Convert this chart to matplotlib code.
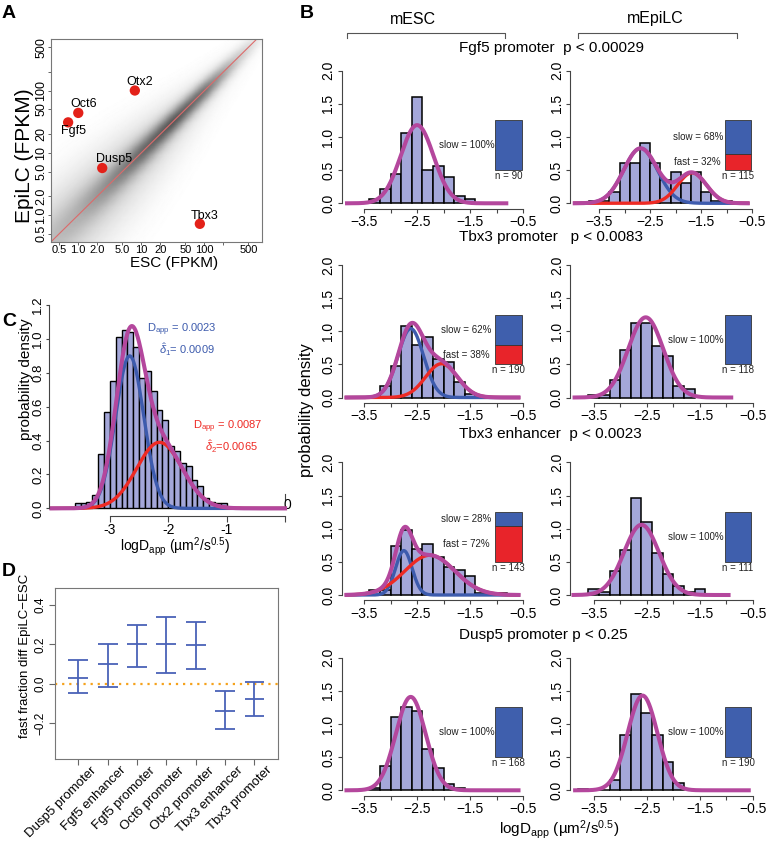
import numpy as np
import matplotlib.pyplot as plt
from matplotlib import ticker
from matplotlib.colors import LinearSegmentedColormap
from matplotlib.transforms import blended_transform_factory

plt.rcParams['font.family'] = ['Liberation Sans', 'DejaVu Sans']
plt.rcParams['mathtext.fontset'] = 'custom'
plt.rcParams['mathtext.rm'] = 'Liberation Sans'
plt.rcParams['mathtext.it'] = 'Liberation Sans:italic'
plt.rcParams['mathtext.bf'] = 'Liberation Sans:bold'

W, H = 768, 844

# ---------------- A: expression, ESC vs EpiLC (FPKM)
a_genes = ['Otx2', 'Oct6', 'Fgf5', 'Dusp5', 'Tbx3']
a_esc = [7.9, 1.0, 0.69, 2.4, 85]
a_epilc = [101, 44, 31, 5.7, 0.72]
a_ticks = [0.5, 1, 2, 5, 10, 20, 50, 100, 200, 500]
a_ticklabels = ['0.5', '1.0', '2.0', '5.0', '10', '20', '50', '100', '', '500']
# grey cloud of all genes, read along the diagonal (log10 FPKM):
# darkness of the dense core and of the sparse halo, and their spread in decades
cloud_pos = [-0.5, 0.0, 0.5, 1.0, 1.5, 2.0, 2.5, 3.0]
cloud_core = [0.08, 0.15, 0.30, 0.48, 0.60, 0.52, 0.20, 0.02]
cloud_halo = [0.20, 0.21, 0.21, 0.19, 0.15, 0.10, 0.05, 0.0]
core_spread = [0.20, 0.17, 0.14, 0.12, 0.10, 0.09, 0.08, 0.07]
halo_spread = [0.45, 0.42, 0.38, 0.33, 0.27, 0.20, 0.15, 0.10]

# ---------------- B: logDapp histograms (bin width 0.2)
b_loci = ['Fgf5 promoter  p < 0.00029', 'Tbx3 promoter   p < 0.0083',
          'Tbx3 enhancer  p < 0.0023', 'Dusp5 promoter p < 0.25']
esc_first_edge = [-3.4, -3.2, -3.4, -3.4]
esc_density = [
    [0.06, 0.22, 0.44, 1.06, 1.61, 0.50, 0.56, 0.39, 0.11, 0.06],
    [0.18, 0.47, 1.08, 0.79, 0.92, 0.58, 0.53, 0.24, 0.05],
    [0.07, 0.07, 0.74, 0.98, 0.70, 0.77, 0.57, 0.42, 0.38, 0.28, 0.035, 0.035, 0.035],
    [0.03, 0.36, 1.10, 1.25, 1.19, 0.63, 0.33, 0.09, 0.03],
]
epi_first_edge = [-3.7, -3.6, -3.6, -3.8]
epi_density = [
    [0.04, 0.04, 0.17, 0.61, 0.61, 0.91, 0.61, 0.35, 0.48, 0.30, 0.48, 0.17, 0.04, 0.04],
    [0.045, 0.045, 0.27, 0.72, 1.12, 1.12, 0.77, 0.63, 0.17, 0.13],
    [0.09, 0.045, 0.36, 0.68, 1.46, 1.10, 0.63, 0.31, 0.14, 0.045, 0.09],
    [0.026, 0.0, 0.0, 0.16, 0.84, 1.45, 1.16, 0.84, 0.42, 0.105],
]
esc_n = [90, 190, 143, 168]
epi_n = [115, 118, 111, 190]
esc_slow = [100, 62, 28, 100]
epi_slow = [68, 100, 100, 100]
# fitted populations: (mean, peak height, sd)
esc_slow_fit = [(-2.50, 1.18, 0.31), (-2.62, 1.04, 0.24), (-2.75, 0.67, 0.155), (-2.62, 1.41, 0.28)]
esc_fast_fit = [None, (-2.04, 0.51, 0.30), (-2.26, 0.60, 0.47), None]
epi_slow_fit = [(-2.69, 0.83, 0.33), (-2.52, 1.21, 0.33), (-2.60, 1.06, 0.33), (-2.58, 1.43, 0.28)]
epi_fast_fit = [(-1.68, 0.46, 0.28), None, None, None]
esc_fit_range = [(-3.82, -0.82), (-3.83, -0.59), (-3.83, -0.59), (-3.83, -0.59)]
epi_fit_range = [(-3.98, -0.59), (-3.86, -0.91), (-3.88, -0.96), (-3.85, -0.58)]

# ---------------- C: pooled logDapp histogram (bin width 0.1)
c_first_edge = -3.6
c_density = [0.03, 0.03, 0.04, 0.08, 0.32, 0.57, 0.75, 1.01, 1.05, 1.04, 0.95, 0.77, 0.81,
             0.69, 0.58, 0.52, 0.37, 0.34, 0.27, 0.25, 0.17, 0.13, 0.06, 0.04, 0.03, 0.03]
c_slow_fit = (-2.66, 0.90, 0.24)
c_fast_fit = (-2.15, 0.39, 0.39)

# ---------------- D: fast fraction difference EpiLC - ESC
d_labels = ['Dusp5 promoter', 'Fgf5 enhancer', 'Fgf5 promoter', 'Oct6 promoter',
            'Otx2 promoter', 'Tbx3 enhancer', 'Tbx3 promoter']
d_mid = [0.031, 0.100, 0.200, 0.203, 0.197, -0.137, -0.080]
d_low = [-0.049, -0.015, 0.083, 0.053, 0.073, -0.231, -0.166]
d_high = [0.119, 0.203, 0.298, 0.337, 0.312, -0.039, 0.010]

HIST = '#a4a7d9'
MAG = '#b4479d'
BLUE = '#3d5bad'
RED = '#ee2a24'
SPINE = '#444444'

fig = plt.figure(figsize=(W / 100, H / 100), dpi=100)


def px_axes(x0, y0, x1, y1):
    return fig.add_axes([x0 / W, 1 - y1 / H, (x1 - x0) / W, (y1 - y0) / H])


def gauss(x, mu, h, sd):
    return h * np.exp(-0.5 * ((x - mu) / sd) ** 2)


ov = fig.add_axes([0, 0, 1, 1])
ov.set_xlim(0, W)
ov.set_ylim(H, 0)
ov.axis('off')

for letter, (lx, ly) in zip('ABCD', [(9, 13), (307, 13), (9, 322), (9, 571)]):
    ov.text(lx, ly, letter, fontsize=14, fontweight='bold', ha='center', va='center')

# ---------------- panel A
ax = px_axes(51, 39, 262, 242)
ax.set_xscale('log')
ax.set_yscale('log')
g = np.linspace(-0.7, 3.2, 220)
U, V = np.meshgrid(g, g)
along = (U + V) / 2
perp = (V - U) / np.sqrt(2)
core = np.interp(along, cloud_pos, cloud_core) * \
    np.exp(-0.5 * (perp / np.interp(along, cloud_pos, core_spread)) ** 2)
halo = np.interp(along, cloud_pos, cloud_halo) * \
    np.exp(-0.5 * (perp / np.interp(along, cloud_pos, halo_spread)) ** 2)
cloud_cmap = LinearSegmentedColormap.from_list('cloud', ['white', '#222222'])
ax.pcolormesh(10 ** U, 10 ** V, core + halo, cmap=cloud_cmap, vmin=0, vmax=1,
              shading='gouraud', rasterized=True)
ax.plot([0.1, 3000], [0.1, 3000], color='#dd6a6a', lw=0.8)
ax.scatter(a_esc, a_epilc, s=55, color='#e32119', edgecolors='none', zorder=3)
offsets = {'Otx2': (5, 9), 'Oct6': (5, 9), 'Fgf5': (5, -9), 'Dusp5': (12, 9), 'Tbx3': (5, 8)}
for gname, ex, ey in zip(a_genes, a_esc, a_epilc):
    ax.annotate(gname, (ex, ey), xytext=offsets[gname], textcoords='offset pixels',
                ha='center', va='center', fontsize=9)
ax.set_xlim(0.369, 824)
ax.set_ylim(0.367, 682)
ax.set_xticks(a_ticks)
ax.set_xticklabels(a_ticklabels, fontsize=8)
ax.set_yticks(a_ticks)
ax.set_yticklabels(a_ticklabels, fontsize=9, rotation=90, va='center')
ax.xaxis.set_minor_locator(ticker.NullLocator())
ax.yaxis.set_minor_locator(ticker.NullLocator())
ax.tick_params(length=2, width=0.7, color='#666', pad=0.8)
ax.tick_params(axis='x', pad=0.4)
for s in ax.spines.values():
    s.set_color('#777')
    s.set_linewidth(0.8)
ov.text(174, 263, 'ESC (FPKM)', fontsize=11, ha='center', va='center')
ov.text(24, 156, 'EpiLC (FPKM)', fontsize=15, rotation=90, ha='center', va='center')


# ---------------- panel B
def hist_panel(ax, first_edge, dens, slow_fit, fast_fit, fit_range, slow_pct, n, xlim):
    left = first_edge + 0.2 * np.arange(len(dens))
    ax.bar(left, dens, width=0.2, align='edge', color=HIST, edgecolor='black', linewidth=1.1)
    x = np.linspace(fit_range[0], fit_range[1], 400)
    slow = gauss(x, *slow_fit)
    if fast_fit is not None:
        fast = gauss(x, *fast_fit)
        ax.plot(x, slow, color=BLUE, lw=2.4)
        ax.plot(x, fast, color=RED, lw=2.4)
        ax.plot(x, slow + fast, color=MAG, lw=2.9)
    else:
        ax.plot(x, slow, color=MAG, lw=2.9)
    hs = 0.75 * slow_pct / 100
    ax.bar(-0.78, hs, width=0.5, bottom=1.25 - hs, color='#3f5fad', edgecolor='#333', lw=0.6)
    ax.text(-1.57, 1.25 - hs / 2, f'slow = {slow_pct}%', fontsize=7, ha='center', va='center',
            color='#222')
    if slow_pct < 100:
        ax.bar(-0.78, 0.75 - hs, width=0.5, bottom=0.5, color='#e8242a', edgecolor='#333', lw=0.6)
        ax.text(-1.57, 0.5 + (0.75 - hs) / 2, f'fast = {100 - slow_pct}%', fontsize=7,
                ha='center', va='center', color='#222')
    ax.text(-0.78, 0.41, f'n = {n}', fontsize=7, ha='center', va='center', color='#222')
    ax.set_xlim(*xlim)
    ax.set_ylim(-0.08, 2.08)
    for side in ('top', 'right'):
        ax.spines[side].set_visible(False)
    ax.spines['left'].set_bounds(0, 2)
    ax.spines['bottom'].set_bounds(-3.5, -0.5)
    for side in ('left', 'bottom'):
        ax.spines[side].set_color(SPINE)
        ax.spines[side].set_linewidth(0.8)
    ax.set_xticks(np.arange(-3.5, -0.4, 0.5))
    ax.set_xticklabels(['\u22123.5', '', '\u22122.5', '', '\u22121.5', '', '\u22120.5'],
                       fontsize=10)
    ax.set_yticks([0, 0.5, 1, 1.5, 2])
    ax.set_yticklabels(['0.0', '0.5', '1.0', '1.5', '2.0'], fontsize=10, rotation=90,
                       va='center')
    ax.tick_params(length=3, width=0.8, color=SPINE, pad=1.5)
    ax.patch.set_alpha(0)


row_zero = [203.3, 397.5, 595, 790.3]
ppu = 66.25
esc_xlim = (-3.924, -0.364)
epi_xlims = [(-4.073, -0.349), (-3.946, -0.368), (-3.946, -0.368), (-3.946, -0.368)]
for i in range(4):
    yt = row_zero[i] - 2.08 * ppu
    yb = row_zero[i] + 0.08 * ppu
    a1 = px_axes(341.5, yt, 530.5, yb)
    hist_panel(a1, esc_first_edge[i], esc_density[i], esc_slow_fit[i], esc_fast_fit[i],
               esc_fit_range[i], esc_slow[i], esc_n[i], esc_xlim)
    a2 = px_axes(570, yt, 760, yb)
    hist_panel(a2, epi_first_edge[i], epi_density[i], epi_slow_fit[i], epi_fast_fit[i],
               epi_fit_range[i], epi_slow[i], epi_n[i], epi_xlims[i])

for i, ty in enumerate([48, 236.5, 434, 635]):
    ov.text(459, ty, b_loci[i], fontsize=11, ha='left', va='center')

ov.text(413, 19, 'mESC', fontsize=11.5, ha='center', va='center')
ov.text(655, 19, 'mEpiLC', fontsize=11.5, ha='center', va='center')
for bx0, bx1 in [(347.3, 505), (577.7, 737.3)]:
    ov.plot([bx0, bx0, bx1, bx1], [37.5, 33, 33, 37.5], color='#555', lw=0.8)
ov.text(306, 410, 'probability density', fontsize=12, rotation=90, ha='center', va='center')
ov.text(559, 830, r'logD$_{\mathrm{app}}$ (µm$^{2}$/s$^{0.5}$)', fontsize=11,
        ha='center', va='center')

# ---------------- panel C
ax = px_axes(48.5, 300, 288, 516)
left = c_first_edge + 0.1 * np.arange(len(c_density))
ax.bar(left, c_density, width=0.1, align='edge', color=HIST, edgecolor='black', linewidth=1.0)
x = np.linspace(-4, 0, 500)
cs = gauss(x, *c_slow_fit)
cf = gauss(x, *c_fast_fit)
ax.plot(x, cs, color=BLUE, lw=2.4)
ax.plot(x, cf, color=RED, lw=2.4)
ax.plot(x, cs + cf, color=MAG, lw=2.9)
ax.set_xlim(-4.05, 0.05)
ax.set_ylim(-0.045, 1.23)
for side in ('top', 'right'):
    ax.spines[side].set_visible(False)
ax.spines['left'].set_bounds(0, 1.2)
ax.spines['bottom'].set_bounds(-3, 0)
for side in ('left', 'bottom'):
    ax.spines[side].set_color(SPINE)
    ax.spines[side].set_linewidth(0.8)
ax.set_xticks([-3, -2, -1, 0])
ax.set_xticklabels(['-3', '-2', '-1', ''], fontsize=10)
ax.set_yticks(np.arange(0, 1.21, 0.2))
ax.set_yticklabels(['0.0', '0.2', '0.4', '0.6', '0.8', '1.0', '1.2'], fontsize=9.5,
                   rotation=90, va='center')
ax.tick_params(axis='x', length=4, width=0.8, color=SPINE, pad=1.2)
ax.tick_params(axis='y', length=2, width=0.8, color=SPINE, pad=1)
ax.patch.set_alpha(0)
ov.text(287, 505, '0', fontsize=10, ha='center', va='center')
ov.plot([285, 285], [494, 500], color=SPINE, lw=0.8)
ov.text(182, 330, r'D$_{\mathrm{app}}$ = 0.0023', color=BLUE, fontsize=8, ha='center', va='center')
ov.text(187, 350, r'$\hat{\delta}_1$= 0.0009', color=BLUE, fontsize=8, ha='center', va='center')
ov.text(228, 427, r'D$_{\mathrm{app}}$ = 0.0087', color=RED, fontsize=8, ha='center', va='center')
ov.text(231, 447, r'$\hat{\delta}_2$=0.0065', color=RED, fontsize=8, ha='center', va='center')
ov.text(175, 547, r'logD$_{\mathrm{app}}$ (µm$^{2}$/s$^{0.5}$)', fontsize=10,
        ha='center', va='center')
ov.text(26, 379, 'probability density', fontsize=11, rotation=90, ha='center', va='center')

# ---------------- panel D
ax = px_axes(55, 588.3, 277.7, 759.3)
xs = np.arange(1, len(d_labels) + 1)
EB = '#4a62b8'
ax.axhline(0, color='#f5a21c', ls=(0, (1, 2.2)), lw=1.6)
ax.vlines(xs, d_low, d_high, color=EB, lw=1.3)
for yv in (d_low, d_mid, d_high):
    ax.hlines(yv, xs - 0.34, xs + 0.34, color=EB, lw=1.3)
ax.set_xlim(0.21, 7.79)
ax.set_ylim(-0.385, 0.485)
ax.set_xticks(xs)
ax.set_xticklabels([])
trans = blended_transform_factory(ax.transData, ax.transAxes)
for xv, lab in zip(xs, d_labels):
    ax.text(xv + 0.55, -0.055, lab, transform=trans, rotation=45, ha='right', va='center',
            rotation_mode='anchor', fontsize=9.5)
ax.set_yticks([-0.2, 0, 0.2, 0.4])
ax.set_yticklabels(['\u22120.2', '0.0', '0.2', '0.4'], fontsize=8.5, rotation=90, va='center')
ax.tick_params(length=4, width=0.8, color='#666', pad=2)
for s in ax.spines.values():
    s.set_color('#777')
    s.set_linewidth(0.8)
ov.text(25, 656, 'fast fraction diff EpiLC\u2212ESC', fontsize=9.5, rotation=90,
        ha='center', va='center')

fig.savefig('out.png', dpi=100)
